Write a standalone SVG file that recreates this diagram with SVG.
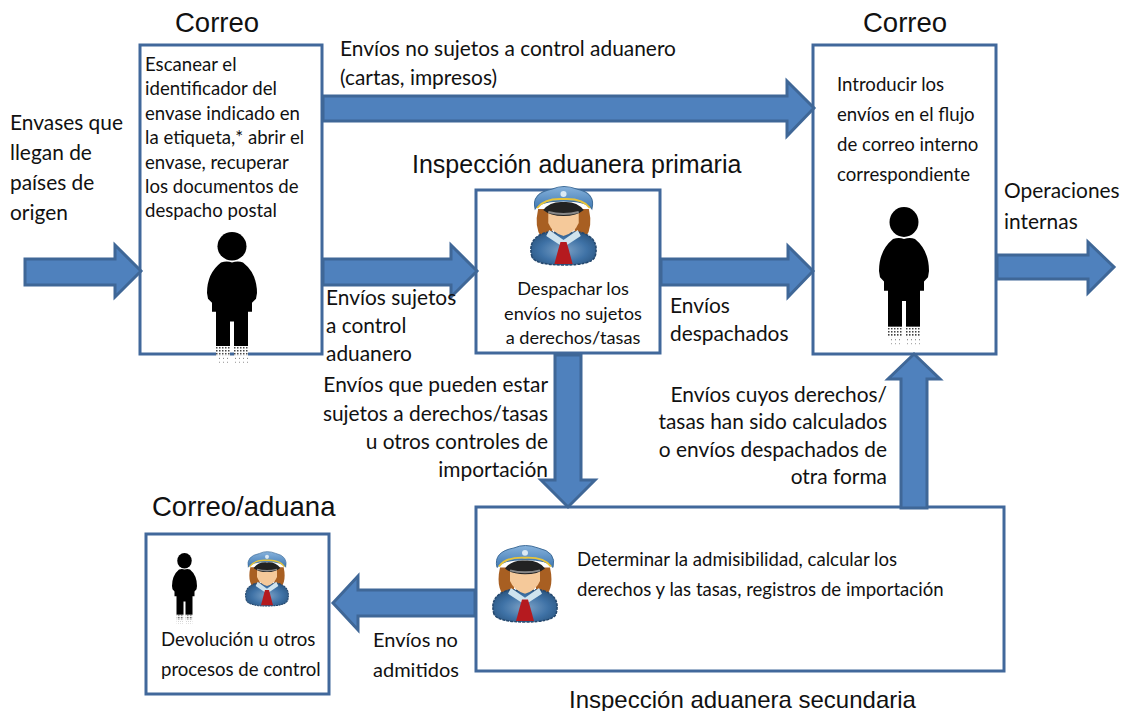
<svg xmlns="http://www.w3.org/2000/svg" width="1125" height="711" viewBox="0 0 1125 711">
<style>
text{font-family:"Lato","Open Sans","Liberation Sans",sans-serif;fill:#111}
.s{font-size:18.6px}
.t{font-size:18.2px}
.m{font-size:20.9px}
.n{font-size:20px}
.h{font-family:"Liberation Sans",sans-serif;font-size:25px}
.h3{font-family:"Liberation Sans",sans-serif;font-size:24px}
.h2{font-family:"Liberation Sans",sans-serif;font-size:27.500px}
.box{fill:#fff;stroke:#41689b;stroke-width:3}
.arr{fill:#4f81bd;stroke:#3f6797;stroke-width:3}
.e{text-anchor:end}
.c{text-anchor:middle}
</style>
<defs>
<pattern id="dith" width="3" height="3" patternUnits="userSpaceOnUse"><rect width="3" height="3" fill="#fff"/><rect width="1.500" height="1.500" fill="#444"/></pattern>
<pattern id="dith2" width="4" height="4" patternUnits="userSpaceOnUse"><rect width="4" height="4" fill="#fff"/><rect width="1" height="1" fill="#777"/></pattern>
<radialGradient id="coat" cx="0.5" cy="0.55" r="0.6"><stop offset="0" stop-color="#7ea3c7"/><stop offset="0.6" stop-color="#3f72a6"/><stop offset="1" stop-color="#2a5580"/></radialGradient>
<linearGradient id="cap" x1="0" y1="0" x2="0" y2="1"><stop offset="0" stop-color="#86b2dc"/><stop offset="1" stop-color="#3f78b2"/></linearGradient>
<symbol id="person" viewBox="0 0 50 120" preserveAspectRatio="none" overflow="visible">
<circle cx="25" cy="14.500" r="14.500" fill="#000"/>
<path d="M14 31Q20 29 25 31Q31 29 36 31Q50 42 50 62L49 68L45 72V81H41V116H27V91H23V116H9V81H5V72L1 68L0 62Q0 42 14 31Z" fill="#000"/>
<rect x="9" y="116" width="14" height="10" fill="url(#dith)"/><rect x="27" y="116" width="14" height="10" fill="url(#dith)"/>
<rect x="9" y="126" width="14" height="7" fill="url(#dith2)"/><rect x="27" y="126" width="14" height="7" fill="url(#dith2)"/>
</symbol>
<symbol id="officer" viewBox="0 0 66 78" preserveAspectRatio="none" overflow="visible">
<path d="M8 22Q4 40 11 50L22 48L22 22ZM58 22Q62 40 55 50L44 48L44 22Z" fill="#a85f22"/>
<path d="M2 70Q-3 52 14 46Q22 43 33 48Q44 43 52 46Q69 52 64 70Q60 78 33 78Q6 78 2 70Z" fill="url(#coat)" stroke="#24476d" stroke-width="1.500" stroke-dasharray="3 1"/>
<path d="M18 24H48V36Q44 46 33 49Q22 46 18 36Z" fill="#f5c99a"/>
<path d="M19 43L33 53L47 43L50 49L35 59H31L16 49Z" fill="#cfe3ee"/>
<path d="M30 55H36L38 62L42 77H24L28 62Z" fill="#b51a1f"/>
<path d="M5 22Q1 6 22 2Q33 -3 46 2Q65 6 61 22Q56 14 33 14Q10 14 5 22Z" fill="url(#cap)" stroke="#3e6c98" stroke-width="1"/>
<path d="M7 21Q14 11 33 12Q52 11 59 21" fill="none" stroke="#e7c43a" stroke-width="2"/>
<path d="M13 23Q20 14 33 15Q46 14 53 23Q46 29 33 29Q20 29 13 23Z" fill="#222"/>
<path d="M18 25Q33 29 48 25" fill="none" stroke="#888" stroke-width="2"/>
<circle cx="33" cy="7" r="3" fill="#dbe9f4"/>
</symbol>
</defs>

<g id="node-correo-1">
<rect class="box" x="140" y="45" width="182" height="309"/>
<use href="#person" x="207" y="232" width="50" height="118"/>
<text class="s" x="145" y="71">Escanear el</text>
<text class="s" x="145" y="95">identificador del</text>
<text class="s" x="145" y="120">envase indicado en</text>
<text class="s" x="145" y="144">la etiqueta,* abrir el</text>
<text class="s" x="145" y="169">envase, recuperar</text>
<text class="s" x="145" y="193">los documentos de</text>
<text class="s" x="145" y="217">despacho postal</text>
</g>
<text class="h2" x="175" y="32">Correo</text>

<g id="node-primaria">
<rect class="box" x="476" y="190" width="184" height="163"/>
<use href="#officer" x="530" y="187" width="67" height="78"/>
<text class="t c" x="573" y="295">Despachar los</text>
<text class="t c" x="573" y="320">envíos no sujetos</text>
<text class="t c" x="573" y="344">a derechos/tasas</text>
</g>
<text class="h" x="412" y="173">Inspección aduanera primaria</text>

<g id="node-correo-2">
<rect class="box" x="813" y="45" width="183" height="309"/>
<use href="#person" x="879" y="207" width="50" height="124"/>
<text class="s" x="837" y="91">Introducir los</text>
<text class="s" x="837" y="121">envíos en el flujo</text>
<text class="s" x="837" y="151">de correo interno</text>
<text class="s" x="837" y="181">correspondiente</text>
</g>
<text class="h2" x="863" y="32">Correo</text>

<g id="node-secundaria">
<rect class="box" x="476" y="507" width="528" height="164"/>
<use href="#officer" x="492" y="546" width="66" height="76"/>
<text class="s" x="577" y="566">Determinar la admisibilidad, calcular los</text>
<text class="s" x="577" y="596">derechos y las tasas, registros de importación</text>
</g>
<text class="h3" x="569" y="708">Inspección aduanera secundaria</text>

<g id="node-correo-aduana">
<rect class="box" x="146" y="534" width="183" height="160"/>
<use href="#person" x="172" y="553" width="25" height="64"/>
<use href="#officer" x="245" y="552" width="44" height="54"/>
<text class="s" x="161" y="646">Devolución u otros</text>
<text class="s" x="161" y="676">procesos de control</text>
</g>
<text class="h2" x="152" y="516">Correo/aduana</text>

<g id="connectors">
<path class="arr" d="M25 259H115V245L141 271L115 297V285H25Z"/>
<path class="arr" d="M323 96H787V81L814 108L787 136V121H323Z"/>
<path class="arr" d="M323 259H451V245L477 271L451 297V285H323Z"/>
<path class="arr" d="M661 259H788V246L813 271L788 297V285H661Z"/>
<path class="arr" d="M997 255H1088V242L1114 267L1088 293V279H997Z"/>
<path class="arr" d="M555 355V480H541L568 507L595 480H581V355Z"/>
<path class="arr" d="M901 508V379H888L914 354L940 379H927V508Z"/>
<path class="arr" d="M475 590H358V576L333 603L358 630V616H475Z"/>
</g>

<g id="labels">
<text class="m" x="10" y="130">Envases que</text>
<text class="m" x="10" y="160">llegan de</text>
<text class="m" x="10" y="190">países de</text>
<text class="m" x="10" y="220">origen</text>
<text class="m" x="340" y="56">Envíos no sujetos a control aduanero</text>
<text class="m" x="340" y="85">(cartas, impresos)</text>
<text class="m" x="326" y="305">Envíos sujetos</text>
<text class="m" x="326" y="333">a control</text>
<text class="m" x="326" y="361">aduanero</text>
<text class="m e" x="548" y="392">Envíos que pueden estar</text>
<text class="m e" x="548" y="421">sujetos a derechos/tasas</text>
<text class="m e" x="548" y="449">u otros controles de</text>
<text class="m e" x="548" y="477">importación</text>
<text class="m" x="670" y="313">Envíos</text>
<text class="m" x="670" y="341">despachados</text>
<text class="m" x="1004" y="198">Operaciones</text>
<text class="m" x="1004" y="229">internas</text>
<text class="m e" x="887" y="402">Envíos cuyos derechos/</text>
<text class="m e" x="887" y="429">tasas han sido calculados</text>
<text class="m e" x="887" y="457">o envíos despachados de</text>
<text class="m e" x="887" y="484">otra forma</text>
<text class="n" x="373" y="647">Envíos no</text>
<text class="n" x="373" y="677">admitidos</text>
</g>
</svg>
